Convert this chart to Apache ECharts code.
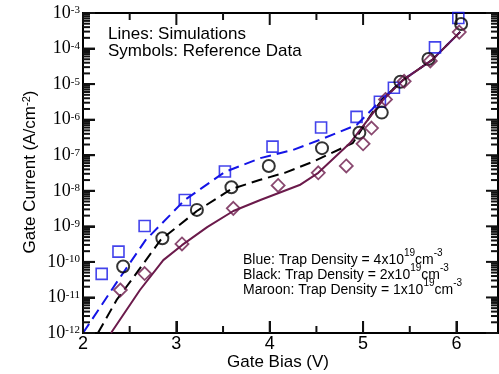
<!DOCTYPE html>
<html>
<head>
<meta charset="utf-8">
<script src="https://cdn.jsdelivr.net/npm/echarts@6/dist/echarts.min.js"></script>
<style>
html,body{margin:0;padding:0;background:#fff;}
#c{width:499px;height:374px;}
</style>
</head>
<body>
<div id="c"></div>
<script>
// ---- Data (Gate bias in V, gate current in A/cm^2) ----
const blueRefV = [2.20, 2.38, 2.66, 3.09, 3.52, 4.03, 4.55, 4.93, 5.18, 5.33, 5.77, 6.02];
const blueRefJ = [4.6e-11, 1.95e-10, 1.02e-9, 5.5e-9, 3.5e-8, 1.74e-7, 6.0e-7, 1.2e-6, 3.2e-6, 7.9e-6, 1.08e-4, 7.2e-4];

const blackRefV = [2.43, 2.85, 3.22, 3.59, 3.99, 4.56, 4.96, 5.20, 5.40, 5.70, 6.05];
const blackRefJ = [7.4e-11, 4.6e-10, 2.9e-9, 1.26e-8, 5.0e-8, 1.58e-7, 4.3e-7, 1.58e-6, 1.17e-5, 5.1e-5, 4.9e-4];

const maroonRefV = [2.40, 2.66, 3.06, 3.61, 4.09, 4.52, 4.82, 5.00, 5.09, 5.24, 5.44, 5.72, 6.03];
const maroonRefJ = [1.62e-11, 4.7e-11, 3.2e-10, 3.2e-9, 1.41e-8, 3.2e-8, 5.0e-8, 2.1e-7, 5.8e-7, 3.7e-6, 1.2e-5, 4.5e-5, 2.9e-4];

const blueSimV = [2.00, 2.35, 2.67, 3.09, 3.52, 3.90, 4.25, 4.55, 4.93, 5.10, 5.21, 5.43, 5.74, 6.04];
const blueSimJ = [1.0e-12, 2.4e-11, 4.1e-10, 5.5e-9, 3.4e-8, 8.3e-8, 1.41e-7, 2.8e-7, 7.1e-7, 2.0e-6, 4.0e-6, 1.32e-5, 4.8e-5, 2.95e-4];

const blackSimV = [2.16, 2.36, 2.52, 2.83, 3.22, 3.59, 3.89, 4.16, 4.46, 4.89, 5.10, 5.21, 5.43, 5.74, 6.04];
const blackSimJ = [1.0e-12, 8.5e-12, 3.1e-11, 4.1e-10, 2.7e-9, 1.12e-8, 2.0e-8, 3.2e-8, 6.5e-8, 2.2e-7, 1.58e-6, 3.8e-6, 1.32e-5, 4.8e-5, 2.95e-4];

const maroonSimV = [2.30, 2.61, 2.86, 3.06, 3.33, 3.61, 3.90, 4.32, 4.52, 4.86, 5.21, 5.43, 5.74, 6.04];
const maroonSimJ = [1.0e-12, 1.62e-11, 1.12e-10, 2.95e-10, 9.5e-10, 2.7e-9, 5.5e-9, 1.45e-8, 3.2e-8, 2.2e-7, 3.5e-6, 1.32e-5, 4.8e-5, 2.95e-4];

// ---- Axis ranges / ticks ----
const xMin = 2, xMax = 6.445;
const yMin = 1e-12, yMax = 1e-3;
const xMajorTicks = [2, 3, 4, 5, 6];
const xMinorTicks = [2.5, 3.5, 4.5, 5.5];
const yDecades = [-12, -11, -10, -9, -8, -7, -6, -5, -4, -3];
const yMinorMult = [2, 3, 4, 5, 6, 7, 8, 9];

const BLUE = '#1414e6', BLACK = '#000000', MAROON = '#6b1a4b';
const SANS = 'Liberation Sans, Arial, Helvetica, sans-serif';
const SERIF = 'Liberation Serif, Times New Roman, serif';

function pairs(xs, ys) { return xs.map((x, i) => [x, ys[i]]); }

const yMajorVals = yDecades.map(e => Math.pow(10, e));
const yMinorVals = [];
yDecades.forEach(e => { if (e < -3) yMinorMult.forEach(k => yMinorVals.push(k * Math.pow(10, e))); });

const TW = 2;
function tickSeries(points, size, offset) {
  return {type: 'scatter', silent: true, clip: false, z: 6, symbol: 'rect',
    symbolSize: size, symbolOffset: offset, data: points,
    itemStyle: {color: '#111', opacity: 1}};
}

const chart = echarts.init(document.getElementById('c'), null, {renderer: 'canvas'});

const yLabelRich = {
  b: {fontFamily: SERIF, fontSize: 18, lineHeight: 18, padding: [6, 0, 0, 0], verticalAlign: 'bottom', color: '#000'},
  s: {fontFamily: SERIF, fontSize: 11, lineHeight: 11, padding: [1, 0, 0, 0], verticalAlign: 'top', color: '#000'}
};

chart.setOption({
  animation: false,
  grid: {left: 83, top: 13, width: 415, height: 320, containLabel: false, outerBoundsMode: 'none',
    show: true, borderColor: '#000', borderWidth: 2},
  xAxis: {
    type: 'value', min: xMin, max: xMax, position: 'bottom',
    axisLine: {show: true, onZero: false, lineStyle: {color: '#000', width: 2}},
    axisTick: {show: true, inside: true, length: 12, lineStyle: {color: '#111', width: TW}},
    splitLine: {show: false},
    axisLabel: {
      margin: 2, color: '#000', fontFamily: SANS, fontSize: 18, showMaxLabel: false,
      formatter: v => (Math.abs(v - Math.round(v)) < 1e-6 ? String(Math.round(v)) : '')
    }
  },
  yAxis: {
    type: 'log', logBase: 10, min: yMin, max: yMax, position: 'left',
    axisLine: {show: true, onZero: false, lineStyle: {color: '#000', width: 2}},
    axisTick: {show: true, inside: true, length: 12, lineStyle: {color: '#111', width: TW}},
    splitLine: {show: false},
    axisLabel: {
      margin: 3, rich: yLabelRich,
      formatter: v => '{b|10}{s|' + Math.round(Math.log10(v)) + '}'
    }
  },
  series: [
    {type: 'line', name: 'Blue sim', data: pairs(blueSimV, blueSimJ), showSymbol: false, symbol: 'none',
      lineStyle: {color: BLUE, width: 2, type: [11, 6]}, z: 2},
    {type: 'line', name: 'Black sim', data: pairs(blackSimV, blackSimJ), showSymbol: false, symbol: 'none',
      lineStyle: {color: BLACK, width: 2, type: [11, 6]}, z: 2},
    {type: 'line', name: 'Maroon sim', data: pairs(maroonSimV, maroonSimJ), showSymbol: false, symbol: 'none',
      lineStyle: {color: MAROON, width: 2}, z: 3},
    {type: 'scatter', name: 'Blue ref', data: pairs(blueRefV, blueRefJ), symbol: 'rect', symbolSize: 11,
      itemStyle: {color: 'rgba(0,0,0,0)', borderColor: BLUE, borderWidth: 1.6}, z: 4},
    {type: 'scatter', name: 'Black ref', data: pairs(blackRefV, blackRefJ), symbol: 'circle', symbolSize: 12,
      itemStyle: {color: 'rgba(0,0,0,0)', borderColor: BLACK, borderWidth: 2}, z: 4},
    {type: 'scatter', name: 'Maroon ref', data: pairs(maroonRefV, maroonRefJ), symbol: 'diamond', symbolSize: [13, 13],
      itemStyle: {color: 'rgba(0,0,0,0)', borderColor: MAROON, borderWidth: 1.8}, z: 5},
    tickSeries(yMajorVals.map(v => [xMin, v]), [12, TW], [6, 0]),
    tickSeries(yMinorVals.map(v => [xMin, v]), [7, TW], [3.5, 0]),
    tickSeries(yMajorVals.map(v => [xMax, v]), [12, TW], [-6, 0]),
    tickSeries(yMinorVals.map(v => [xMax, v]), [7, TW], [-3.5, 0]),
    tickSeries(xMajorTicks.map(x => [x, yMin]), [TW, 12], [0, -6]),
    tickSeries(xMinorTicks.map(x => [x, yMin]), [TW, 7], [0, -3.5]),
    tickSeries(xMajorTicks.map(x => [x, yMax]), [TW, 12], [0, 6]),
    tickSeries(xMinorTicks.map(x => [x, yMax]), [TW, 7], [0, 3.5])
  ]
});

// ---- text with superscripts, measured with the canvas ----
const graphics = [];
const mctx = document.createElement('canvas').getContext('2d');
function textW(str, font) { mctx.font = font; return mctx.measureText(str).width; }
function supText(segs, x0, yc, size, supSize, raise) {
  let x = x0;
  segs.forEach(s => {
    const isSup = s[1];
    const fs = isSup ? supSize : size;
    const font = fs + 'px ' + SANS;
    graphics.push({type: 'text', x: x, y: isSup ? yc - raise : yc, z: 60,
      style: {text: s[0], font: font, fill: '#000', verticalAlign: 'middle', align: 'left'}});
    x += textW(s[0], font);
  });
}
graphics.push({type: 'text', x: 108, y: 34, z: 60, style: {text: 'Lines: Simulations', font: '17px ' + SANS, fill: '#000', verticalAlign: 'middle'}});
graphics.push({type: 'text', x: 108, y: 51, z: 60, style: {text: 'Symbols: Reference Data', font: '17px ' + SANS, fill: '#000', verticalAlign: 'middle'}});
supText([['Blue: Trap Density = 4x10', 0], ['19', 1], ['cm', 0], ['-3', 1]], 243, 260, 14, 10, 7);
supText([['Black: Trap Density = 2x10', 0], ['19', 1], ['cm', 0], ['-3', 1]], 243, 275, 14, 10, 7);
supText([['Maroon: Trap Density = 1x10', 0], ['19', 1], ['cm', 0], ['-3', 1]], 243, 290, 14, 10, 7);
graphics.push({type: 'text', x: 278, y: 362, z: 60, style: {text: 'Gate Bias (V)', font: '17px ' + SANS, fill: '#000', align: 'center', verticalAlign: 'middle'}});
graphics.push({type: 'text', x: 30, y: 172, rotation: Math.PI / 2, z: 60,
  style: {text: '{n|Gate Current (A/cm}{s|-2}{n|)}', align: 'center', verticalAlign: 'middle',
    rich: {
      n: {fontFamily: SANS, fontSize: 17, lineHeight: 17, padding: [6, 0, 0, 0], verticalAlign: 'bottom', color: '#000'},
      s: {fontFamily: SANS, fontSize: 11, lineHeight: 11, verticalAlign: 'top', color: '#000'}
    }}});

chart.setOption({graphic: graphics});
</script>
</body>
</html>
